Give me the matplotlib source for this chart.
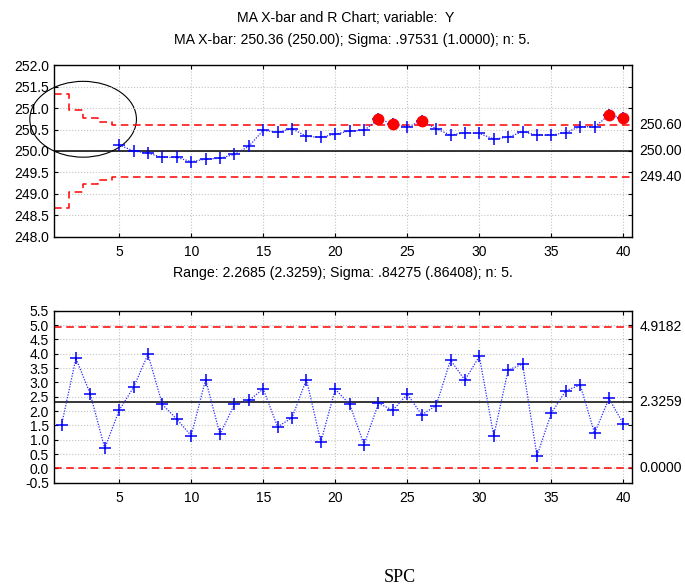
import numpy as np
import matplotlib
matplotlib.use("Agg")
from matplotlib import pyplot as plt
from matplotlib.patches import Ellipse
import matplotlib.transforms as mtransforms

plt.rcParams['font.family'] = ['Liberation Sans', 'DejaVu Sans']

# moving average X-bar, samples 5..40
ma_x = np.arange(5, 41)
ma_vals = [250.14, 250.00, 249.95, 249.85, 249.85, 249.75, 249.81, 249.83, 249.92, 250.11,
           250.48, 250.44, 250.52, 250.34, 250.32, 250.39, 250.47, 250.48, 250.74, 250.64,
           250.55, 250.71, 250.52, 250.37, 250.43, 250.41, 250.28, 250.32, 250.45, 250.37,
           250.37, 250.43, 250.57, 250.56, 250.84, 250.77]
ma_center = 250.0
ma_ucl = [251.34, 250.95, 250.77, 250.67, 250.60]
ma_lcl = [248.66, 249.05, 249.23, 249.33, 249.40]

# ranges, samples 1..40
r_x = np.arange(1, 41)
r_vals = [1.51, 3.84, 2.59, 0.70, 2.03, 2.83, 3.98, 2.23, 1.72, 1.14,
          3.10, 1.19, 2.23, 2.37, 2.77, 1.45, 1.77, 3.10, 0.93, 2.76,
          2.24, 0.83, 2.27, 2.03, 2.59, 1.87, 2.19, 3.78, 3.08, 3.91,
          1.14, 3.43, 3.64, 0.44, 1.93, 2.71, 2.91, 1.23, 2.44, 1.55]
r_center = 2.3259
r_ucl = 4.9182
r_lcl = 0.0

fig = plt.figure(figsize=(6.85, 5.88), dpi=100)
ax1 = fig.add_axes([0.0793, 0.5975, 0.8434, 0.2915])
ax2 = fig.add_axes([0.0793, 0.179, 0.8434, 0.2925])

dash = (0, (5, 3))
blue_kw = dict(color='#2a2aff', ls=(0, (1, 1.2)), lw=0.9, marker='+', ms=8, mew=1.1,
               markeredgecolor='blue')

def style(ax, ylim, yticks):
    ax.set_xlim(0.5, 40.6)
    ax.set_ylim(*ylim)
    ax.set_xticks(range(5, 41, 5))
    ax.set_yticks(yticks)
    ax.set_yticklabels(['%.1f' % v for v in yticks])
    ax.grid(True, color='#c4c4c4', linestyle=':', linewidth=0.8)
    ax.tick_params(direction='in', top=True, right=True, length=3, labelsize=10, pad=4)
    ax.tick_params(axis='x', pad=6)
    for s in ax.spines.values():
        s.set_linewidth(1.0)

# --- MA X-bar chart
style(ax1, (248.0, 252.0), np.arange(248.0, 252.01, 0.5))
step_x = np.append(np.arange(0.5, 5.5), 40.6)
ax1.step(step_x, ma_ucl + [ma_ucl[-1]], where='post', color='red', ls=dash, lw=1.1)
ax1.step(step_x, ma_lcl + [ma_lcl[-1]], where='post', color='red', ls=dash, lw=1.1)
ax1.axhline(ma_center, color='black', lw=1.1)
ax1.plot(ma_x, ma_vals, **blue_kw)
ma_arr = np.array(ma_vals)
out = ma_arr > ma_ucl[-1]
ax1.plot(ma_x[out], ma_arr[out], 'o', color='red', ms=7.5, zorder=5)
ax1.add_patch(Ellipse((2.5, 250.74), 7.4, 1.77, fill=False, edgecolor='black',
                      lw=0.8, clip_on=False))

tr1 = mtransforms.blended_transform_factory(ax1.transAxes, ax1.transData)
for v in [ma_ucl[-1], ma_center, ma_lcl[-1]]:
    ax1.text(1.013, v, '%.2f' % v, transform=tr1, va='center', ha='left', fontsize=10)

# --- Range chart
style(ax2, (-0.5, 5.5), np.arange(-0.5, 5.51, 0.5))
ax2.axhline(r_ucl, color='red', ls=dash, lw=1.1)
ax2.axhline(r_lcl, color='red', ls=dash, lw=1.1)
ax2.axhline(r_center, color='black', lw=1.1)
ax2.plot(r_x, r_vals, **blue_kw)
tr2 = mtransforms.blended_transform_factory(ax2.transAxes, ax2.transData)
for v in [r_ucl, r_center, r_lcl]:
    ax2.text(1.013, v, '%.4f' % v, transform=tr2, va='center', ha='left', fontsize=10)

fig.text(0.505, 1 - 18 / 588, 'MA X-bar and R Chart; variable:  Y', ha='center', va='center', fontsize=10.2)
fig.text(0.514, 1 - 40 / 588, 'MA X-bar: 250.36 (250.00); Sigma: .97531 (1.0000); n: 5.',
         ha='center', va='center', fontsize=10.2)
fig.text(0.5, 1 - 273 / 588, 'Range: 2.2685 (2.3259); Sigma: .84275 (.86408); n: 5.',
         ha='center', va='center', fontsize=10.2)
fig.text(400 / 685, 1 - 577 / 588, 'SPC', ha='center', va='center', fontsize=13,
         family='Liberation Serif')

fig.savefig('out.png', dpi=100)
